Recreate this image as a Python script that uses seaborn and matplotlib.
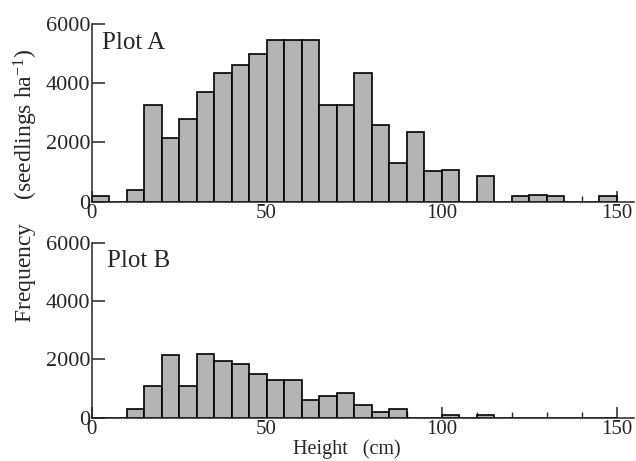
import numpy as np
import pandas as pd
import matplotlib.pyplot as plt
import seaborn as sns
from matplotlib.ticker import MultipleLocator

# height classes (cm), 5 cm wide, left edges
bin_left = list(range(0, 150, 5))

# seedlings per ha
plot_a = [200, 0, 400, 3250, 2150, 2800, 3700, 4350, 4600, 5000,
          5450, 5450, 5450, 3250, 3250, 4350, 2600, 1300, 2350, 1050,
          1070, 0, 870, 0, 200, 210, 200, 0, 0, 200]
plot_b = [0, 0, 300, 1080, 2150, 1080, 2170, 1950, 1830, 1500,
          1300, 1300, 620, 730, 850, 430, 200, 300, 0, 0,
          100, 0, 80, 0, 0, 0, 0, 0, 0, 0]

panels = ['Plot A', 'Plot B']

sns.set_style('ticks')
plt.rcParams['font.family'] = ['Liberation Serif', 'DejaVu Serif']
plt.rcParams['mathtext.default'] = 'regular'

df = pd.DataFrame({'left': bin_left, 'Plot A': plot_a, 'Plot B': plot_b})
df['mid'] = df['left'] + 2.5
edges = list(range(0, 155, 5))

fig = plt.figure(figsize=(6.36, 4.61), dpi=100)
ax_a = fig.add_axes([0.144, 0.5625, 0.853, 0.3856])
ax_b = fig.add_axes([0.144, 0.0939, 0.853, 0.380])

for ax, name, tx in zip([ax_a, ax_b], panels, [0.02, 0.028]):
    sns.histplot(data=df, x='mid', weights=name, bins=edges, ax=ax,
                 color='#b4b4b4', edgecolor='black', linewidth=1.2, alpha=1)
    ax.set_xlim(0, 155)
    ax.set_ylim(0, 6000)
    ax.set_yticks([0, 2000, 4000, 6000])
    ax.set_xticks([0, 50, 100, 150])
    ax.xaxis.set_minor_locator(MultipleLocator(10))
    ax.tick_params(axis='y', direction='in', length=9, width=1.1,
                   labelsize=16, pad=1)
    ax.tick_params(axis='x', which='major', direction='in', length=8,
                   width=1.1, labelsize=15, pad=2)
    ax.tick_params(axis='x', which='minor', direction='in', length=4, width=1)
    for s in ['left', 'bottom']:
        ax.spines[s].set_linewidth(1.1)
    sns.despine(ax=ax)
    ax.set_xlabel('')
    ax.set_ylabel('')
    ax.text(tx, 0.955, name, transform=ax.transAxes, fontsize=18,
            va='top', ha='left')

fig.text(0.040, 0.597, 'Frequency    (seedlings ha$^{-1}$)', rotation=90,
         fontsize=17, ha='center', va='center')
fig.text(0.546, 0.025, 'Height   (cm)', fontsize=14.5, ha='center', va='center')

fig.savefig('out.png', dpi=100)
